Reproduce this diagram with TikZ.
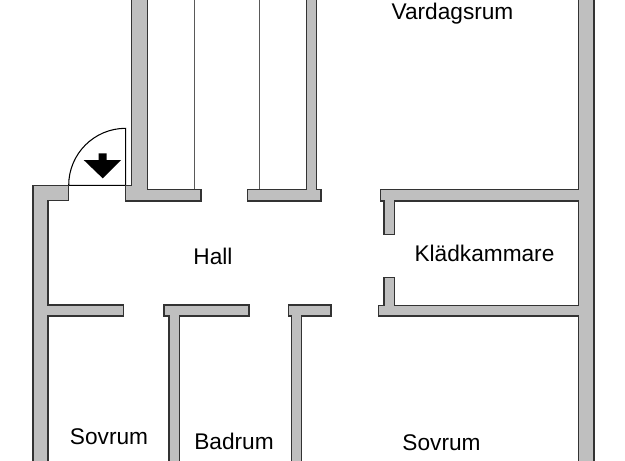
\documentclass[tikz,border=0pt]{standalone}
\usepackage{fontspec}
\setmainfont{Liberation Sans}
\tikzset{
  wall/.style={draw=black!80, fill=black!25, line width=0.75pt, line join=miter},
  thinline/.style={draw=black!65, line width=0.75pt},
  doorline/.style={draw=black, line width=0.6pt},
  roomlabel/.style={inner sep=0pt, anchor=base, text=black, font=\fontsize{12.9}{15}\selectfont}
}

\begin{document}
\begin{tikzpicture}[x=0.02cm, y=-0.02cm]
  \clip (0,0) rectangle (625,460);

  % thin lines of the shafts
  \draw [thinline] (194.7,-5) -- (194.7,190);
  \draw [thinline] (259.7,-5) -- (259.7,190);

  % door and swing
  \draw [doorline] (68.7,185.3) arc (180:270:57) -- (125.7,185.3) -- cycle;
  \fill [black] (98.7,153.3) -- (106.7,153.3) -- (106.7,160) -- (121,160) -- (102.7,178.3) -- (83.7,160) -- (98.7,160) -- cycle;

  % outer left wall with the first bedroom wall
  \draw [wall] (33,465) -- (33,185.3) -- (68.7,185.3) -- (68.7,200.7) -- (48,200.7) -- (48,305) -- (123.7,305) -- (123.7,316) -- (48,316) -- (48,465) -- cycle;

  % shaft walls
  \draw [wall] (131.7,-5) -- (131.7,185.3) -- (125.3,185.3) -- (125.3,201) -- (201,201) -- (201,189.3) -- (147.3,189.3) -- (147.3,-5) -- cycle;
  \draw [wall] (306.7,-5) -- (306.7,189.3) -- (247.3,189.3) -- (247.3,201) -- (321,201) -- (321,189.3) -- (316.7,189.3) -- (316.7,-5) -- cycle;

  % bathroom walls
  \draw [wall] (169,465) -- (169,316) -- (164,316) -- (164,305) -- (249,305) -- (249,316) -- (179.7,316) -- (179.7,465) -- cycle;
  \draw [wall] (291.7,465) -- (291.7,316) -- (288.3,316) -- (288.3,305) -- (331,305) -- (331,316) -- (301.7,316) -- (301.7,465) -- cycle;

  % outer right wall with the closet
  \draw [wall] (594,-5) -- (594,465) -- (578.3,465) -- (578.3,316) -- (378.3,316) -- (378.3,305.3) -- (384,305.3) -- (384,277.7) -- (394.3,277.7) -- (394.3,305.3) -- (578.3,305.3) -- (578.3,201) -- (394.3,201) -- (394.3,234.3) -- (384,234.3) -- (384,201) -- (380.7,201) -- (380.7,189.3) -- (578.3,189.3) -- (578.3,-5) -- cycle;

  \node [roomlabel] (vardagsrum) at (452.5,19) {Vardagsrum};
  \node [roomlabel] (hall) at (213,264) {Hall};
  \node [roomlabel] (kladkammare) at (484.5,261.5) {Klädkammare};
  \node [roomlabel] (sovrumleft) at (109,444.3) {Sovrum};
  \node [roomlabel] (badrum) at (234,449) {Badrum};
  \node [roomlabel] (sovrumright) at (441.5,450) {Sovrum};
\end{tikzpicture}
\end{document}
